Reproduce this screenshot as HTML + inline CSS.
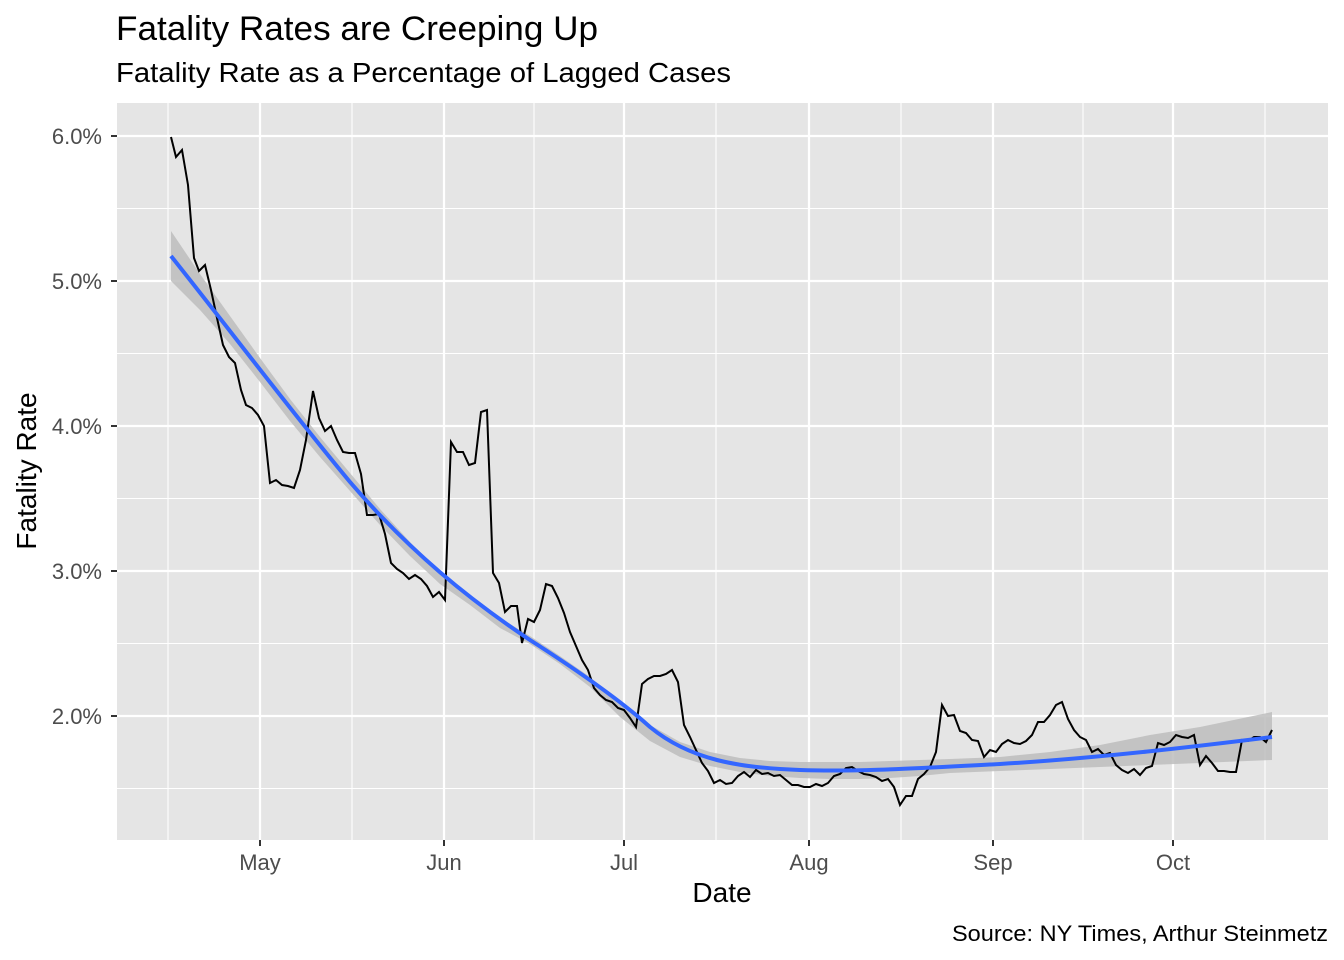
<!DOCTYPE html>
<html><head><meta charset="utf-8"><style>body{margin:0;background:#fff}svg{display:block;font-family:"Liberation Sans",sans-serif}</style></head><body>
<svg width="1344" height="960" xmlns="http://www.w3.org/2000/svg">
<rect width="1344" height="960" fill="#fff"/>
<text x="116" y="40" font-size="34" fill="#000" textLength="482" lengthAdjust="spacingAndGlyphs">Fatality Rates are Creeping Up</text>
<text x="116" y="82" font-size="28" fill="#000" textLength="615" lengthAdjust="spacingAndGlyphs">Fatality Rate as a Percentage of Lagged Cases</text>
<rect x="117" y="103" width="1211" height="737" fill="#e5e5e5"/>
<g stroke="#fff" stroke-width="1.1">
<line x1="117" x2="1328" y1="208.5" y2="208.5"/><line x1="117" x2="1328" y1="353.5" y2="353.5"/><line x1="117" x2="1328" y1="498.5" y2="498.5"/><line x1="117" x2="1328" y1="643.5" y2="643.5"/><line x1="117" x2="1328" y1="788.5" y2="788.5"/>
<line y1="103" y2="840" x1="168" x2="168"/><line y1="103" y2="840" x1="352" x2="352"/><line y1="103" y2="840" x1="534" x2="534"/><line y1="103" y2="840" x1="716" x2="716"/><line y1="103" y2="840" x1="901" x2="901"/><line y1="103" y2="840" x1="1083" x2="1083"/><line y1="103" y2="840" x1="1265" x2="1265"/>
</g>
<g stroke="#fff" stroke-width="2.2">
<line x1="117" x2="1328" y1="136" y2="136"/><line x1="117" x2="1328" y1="281" y2="281"/><line x1="117" x2="1328" y1="426" y2="426"/><line x1="117" x2="1328" y1="571" y2="571"/><line x1="117" x2="1328" y1="716" y2="716"/>
<line y1="103" y2="840" x1="260" x2="260"/><line y1="103" y2="840" x1="444" x2="444"/><line y1="103" y2="840" x1="624" x2="624"/><line y1="103" y2="840" x1="809" x2="809"/><line y1="103" y2="840" x1="993" x2="993"/><line y1="103" y2="840" x1="1173" x2="1173"/>
</g>
<polygon fill="#bdbdbd" opacity="0.85" points="171,231 200,274 230,316 260,358 290,399 320,437 350,473 380,509 410,542 440,572 470,595 500,618 530,636 560,656 590,677 620,703 650,725 680,742 710,752 740,758 770,761 800,762 830,762 860,762 890,761 920,760 950,759 1000,757 1050,752 1100,745 1150,735 1200,727 1272,712 1272,760 1200,763 1150,765 1100,767 1050,769 1000,771 950,773 920,776 890,778 860,779 830,779 800,778 770,776 740,772 710,766 680,757 650,741 620,717 590,687 560,664 530,644 500,628 470,605 440,584 410,556 380,525 350,491 320,457 290,421 260,382 230,344 200,310 171,281"/>
<polyline fill="none" stroke="#000" stroke-width="2" points="171,137 176,157 182,150 188,185 194,258 199,271 205,265 211,290 217,318 223,345 229,357 235,363 241,390 246,405 252,408 258,415 264,426 270,483 276,480 282,485 288,486 294,488 300,470 306,440 313,391 319,418 325,431 331,426 337,440 343,452 349,453 355,453 361,474 367,515 373,515 379,514 385,534 391,563 397,569 403,573 409,579 415,575 421,579 427,586 433,597 439,592 445,600 451,442 457,452 463,452 469,465 475,463 481,412 487,410 493,573 499,583 505,612 511,606 517,606 522,643 528,619 534,622 540,610 546,584 552,586 558,598 564,613 570,632 576,646 582,660 588,670 594,688 600,695 606,700 612,702 618,708 624,710 630,718 636,727 642,684 648,679 654,676 660,676 666,674 672,670 678,682 684,725 690,737 696,750 702,763 708,771 714,783 720,780 726,784 732,783 738,776 744,772 750,777 756,770 762,774 768,773 774,776 780,775 786,780 792,785 798,785 804,787 810,787 816,784 822,786 828,783 834,776 840,774 846,768 852,767 858,771 864,774 870,775 876,777 882,781 888,779 894,787 900,805 906,796 912,796 918,779 924,774 930,767 936,752 942,705 948,716 954,715 960,731 966,733 972,740 978,741 984,757 990,750 996,752 1002,744 1008,740 1014,743 1020,744 1026,741 1032,735 1038,722 1044,722 1050,715 1056,705 1062,702 1068,719 1074,730 1080,737 1086,740 1092,752 1098,749 1104,755 1110,753 1116,765 1122,770 1128,773 1134,769 1140,775 1146,768 1152,766 1158,743 1164,745 1170,742 1176,735 1182,737 1188,738 1194,735 1200,765 1206,756 1212,763 1218,771 1224,771 1230,772 1236,772 1242,740 1248,741 1254,737 1260,737 1266,742 1272,730"/>
<path fill="none" stroke="#3366ff" stroke-width="4" stroke-linejoin="round" d="M171,256 C230,330 290,410 350,482 C410,552 470,600 530,640 C580,672 620,700 650,727 C690,760 740,768 800,770 C860,772 920,768 1000,764 C1100,758 1200,746 1272,737"/>
<g stroke="#333" stroke-width="2">
<line x1="111" x2="117" y1="136" y2="136"/><line x1="111" x2="117" y1="281" y2="281"/><line x1="111" x2="117" y1="426" y2="426"/><line x1="111" x2="117" y1="571" y2="571"/><line x1="111" x2="117" y1="716" y2="716"/>
<line y1="840" y2="846" x1="260" x2="260"/><line y1="840" y2="846" x1="444" x2="444"/><line y1="840" y2="846" x1="624" x2="624"/><line y1="840" y2="846" x1="809" x2="809"/><line y1="840" y2="846" x1="993" x2="993"/><line y1="840" y2="846" x1="1173" x2="1173"/>
</g>
<g font-size="22" fill="#4d4d4d" text-anchor="end">
<text x="102" y="144">6.0%</text><text x="102" y="289">5.0%</text><text x="102" y="434">4.0%</text><text x="102" y="579">3.0%</text><text x="102" y="724">2.0%</text>
</g>
<g font-size="22" fill="#4d4d4d" text-anchor="middle">
<text x="260" y="870">May</text><text x="444" y="870">Jun</text><text x="624" y="870">Jul</text><text x="809" y="870">Aug</text><text x="993" y="870">Sep</text><text x="1173" y="870">Oct</text>
</g>
<text x="722" y="902" font-size="28" text-anchor="middle">Date</text>
<text transform="translate(36,471) rotate(-90)" font-size="28" text-anchor="middle">Fatality Rate</text>
<text x="1328" y="941" font-size="22" text-anchor="end" textLength="376" lengthAdjust="spacingAndGlyphs">Source: NY Times, Arthur Steinmetz</text>
</svg>
</body></html>
